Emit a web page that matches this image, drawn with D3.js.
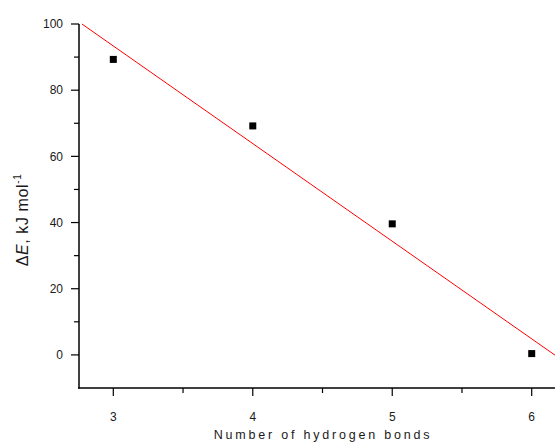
<!DOCTYPE html>
<html><head><meta charset="utf-8">
<script src="https://cdn.jsdelivr.net/npm/d3@7"></script>
<style>body{margin:0;background:#fff}svg{display:block}</style>
</head><body>
<svg id="c" width="555" height="442"></svg>
<script>
const hbonds = [3, 4, 5, 6];
const deltaE = [89.3, 69.2, 39.6, 0.4];
const fitX = [2.775, 6.3];
const fitY = [100, -4];
const xTicks = [3, 4, 5, 6];
const xMinor = [3.5, 4.5, 5.5];
const yTicks = [0, 20, 40, 60, 80, 100];
const yMinor = [10, 30, 50, 70, 90];

const FONT = "Liberation Sans, Arial, sans-serif";
const svg = d3.select("#c");
const x = d3.scaleLinear().domain([2.754, 6.167]).range([79, 555]);
const y = d3.scaleLinear().domain([-10, 100]).range([388, 24]);

const axColor = "#000";
// y axis
const gy = svg.append("g").attr("transform", "translate(79,0)");
gy.append("line").attr("x1",0).attr("x2",0).attr("y1",y(100)).attr("y2",y(-10)+0.5).attr("stroke",axColor).attr("stroke-width",1.5);
gy.selectAll(".maj").data(yTicks).join("line").attr("class","maj").attr("x1",-8).attr("x2",0)
  .attr("y1",d=>y(d)).attr("y2",d=>y(d)).attr("stroke",axColor).attr("stroke-width",1.2);
gy.selectAll(".min").data(yMinor).join("line").attr("class","min").attr("x1",-5).attr("x2",0)
  .attr("y1",d=>y(d)).attr("y2",d=>y(d)).attr("stroke",axColor).attr("stroke-width",1.2);
gy.selectAll("text").data(yTicks).join("text").attr("x",-16).attr("y",d=>y(d)).attr("dy","0.35em")
  .attr("text-anchor","end").attr("font-family",FONT).attr("font-size",12).attr("fill","#1a1a1a").text(d=>d);

// x axis
const gx = svg.append("g").attr("transform", "translate(0,388)");
gx.append("line").attr("x1",78).attr("x2",555).attr("y1",0).attr("y2",0).attr("stroke",axColor).attr("stroke-width",1.5);
gx.selectAll(".maj").data(xTicks).join("line").attr("class","maj").attr("x1",d=>x(d)).attr("x2",d=>x(d))
  .attr("y1",0).attr("y2",8).attr("stroke",axColor).attr("stroke-width",1.2);
gx.selectAll(".min").data(xMinor).join("line").attr("class","min").attr("x1",d=>x(d)).attr("x2",d=>x(d))
  .attr("y1",0).attr("y2",5).attr("stroke",axColor).attr("stroke-width",1.2);
gx.selectAll("text").data(xTicks).join("text").attr("x",d=>x(d)).attr("y",33)
  .attr("text-anchor","middle").attr("font-family",FONT).attr("font-size",12).attr("fill","#1a1a1a").text(d=>d);

// fit line
svg.append("defs").append("clipPath").attr("id","clip").append("rect").attr("x",80).attr("y",0).attr("width",475).attr("height",387);
svg.append("path").datum(fitX.map((v,i)=>[v,fitY[i]])).attr("clip-path","url(#clip)")
  .attr("d", d3.line().x(d=>x(d[0])).y(d=>y(d[1]))).attr("fill","none").attr("stroke","#ff0000").attr("stroke-width",1);

// points
svg.selectAll(".pt").data(hbonds.map((v,i)=>[v,deltaE[i]])).join("rect").attr("class","pt")
  .attr("x",d=>x(d[0])-3.5).attr("y",d=>y(d[1])-3.5).attr("width",7).attr("height",7).attr("fill","#000");

// labels
svg.append("text").attr("x",323).attr("y",439).attr("text-anchor","middle")
  .attr("font-family",FONT).attr("font-size",12.5).attr("letter-spacing","2.8px").attr("fill","#1a1a1a")
  .text("Number of hydrogen bonds");
const yl = svg.append("text").attr("transform","translate(28,220) rotate(-90)").attr("text-anchor","middle")
  .attr("font-family",FONT).attr("font-size",16).attr("letter-spacing","0.6px").attr("fill","#1a1a1a");
yl.append("tspan").text("Δ");
yl.append("tspan").attr("font-style","italic").text("E");
yl.append("tspan").text(", kJ mol");
yl.append("tspan").attr("font-size",10).attr("dy",-7).text("-1");
</script>
</body></html>
